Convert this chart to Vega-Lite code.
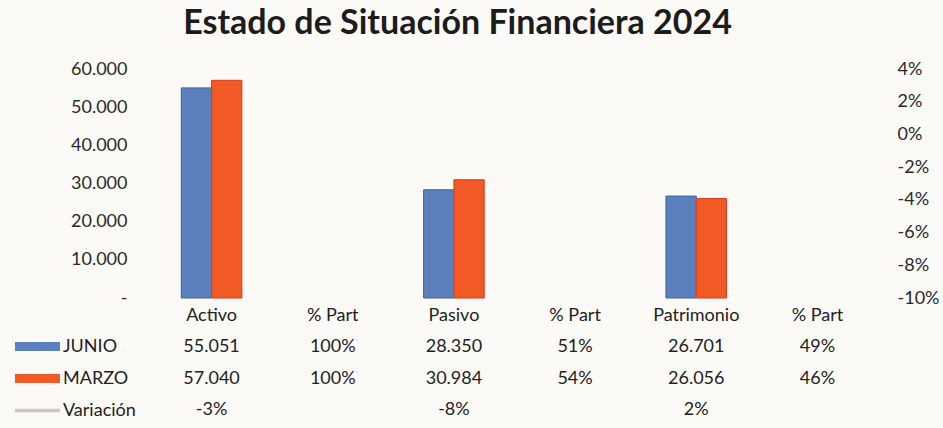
{
  "$schema": "https://vega.github.io/schema/vega-lite/v6.json",
  "width": 727,
  "height": 229,
  "autosize": {"type": "none"},
  "padding": {"left": 151, "top": 69, "right": 65, "bottom": 130},
  "background": "#fbfaf7",
  "config": {"view": {"stroke": null}, "font": "Lato"},
  "title": {
    "text": "Estado de Situación Financiera 2024",
    "font": "Lato",
    "fontSize": 34,
    "fontWeight": "bold",
    "color": "#1c1c1c",
    "anchor": "middle",
    "baseline": "alphabetic",
    "dx": -57,
    "dy": 31,
    "offset": 23
  },
  "datasets": {
    "barras": [
      {"cat": "Activo", "serie": "JUNIO", "valor": 55051},
      {"cat": "Activo", "serie": "MARZO", "valor": 57040},
      {"cat": "Pasivo", "serie": "JUNIO", "valor": 28350},
      {"cat": "Pasivo", "serie": "MARZO", "valor": 30984},
      {"cat": "Patrimonio", "serie": "JUNIO", "valor": 26701},
      {"cat": "Patrimonio", "serie": "MARZO", "valor": 26056}
    ],
    "variacion": [
      {"cat": "Activo", "var": -0.03},
      {"cat": "% Part Activo", "var": null},
      {"cat": "Pasivo", "var": -0.08},
      {"cat": "% Part Pasivo", "var": null},
      {"cat": "Patrimonio", "var": 0.02},
      {"cat": "% Part Patrimonio", "var": null}
    ],
    "tabla": [
      {"cat": "Activo", "fila": "encabezado", "texto": "Activo"},
      {"cat": "% Part Activo", "fila": "encabezado", "texto": "% Part"},
      {"cat": "Pasivo", "fila": "encabezado", "texto": "Pasivo"},
      {"cat": "% Part Pasivo", "fila": "encabezado", "texto": "% Part"},
      {"cat": "Patrimonio", "fila": "encabezado", "texto": "Patrimonio"},
      {"cat": "% Part Patrimonio", "fila": "encabezado", "texto": "% Part"},
      {"cat": "Activo", "fila": "JUNIO", "texto": "55.051"},
      {"cat": "% Part Activo", "fila": "JUNIO", "texto": "100%"},
      {"cat": "Pasivo", "fila": "JUNIO", "texto": "28.350"},
      {"cat": "% Part Pasivo", "fila": "JUNIO", "texto": "51%"},
      {"cat": "Patrimonio", "fila": "JUNIO", "texto": "26.701"},
      {"cat": "% Part Patrimonio", "fila": "JUNIO", "texto": "49%"},
      {"cat": "Activo", "fila": "MARZO", "texto": "57.040"},
      {"cat": "% Part Activo", "fila": "MARZO", "texto": "100%"},
      {"cat": "Pasivo", "fila": "MARZO", "texto": "30.984"},
      {"cat": "% Part Pasivo", "fila": "MARZO", "texto": "54%"},
      {"cat": "Patrimonio", "fila": "MARZO", "texto": "26.056"},
      {"cat": "% Part Patrimonio", "fila": "MARZO", "texto": "46%"},
      {"cat": "Activo", "fila": "Variación", "texto": "-3%"},
      {"cat": "Pasivo", "fila": "Variación", "texto": "-8%"},
      {"cat": "Patrimonio", "fila": "Variación", "texto": "2%"}
    ]
  },
  "layer": [
    {
      "data": {"name": "barras"},
      "mark": {"type": "bar", "strokeWidth": 1},
      "encoding": {
        "x": {
          "field": "cat",
          "type": "nominal",
          "sort": null,
          "scale": {
            "domain": ["Activo", "% Part Activo", "Pasivo", "% Part Pasivo", "Patrimonio", "% Part Patrimonio"],
            "paddingInner": 0,
            "paddingOuter": 0
          },
          "axis": null
        },
        "xOffset": {
          "field": "serie",
          "type": "nominal",
          "scale": {"domain": ["JUNIO", "MARZO"], "paddingInner": 0, "paddingOuter": 1.4}
        },
        "y": {
          "field": "valor",
          "type": "quantitative",
          "scale": {"domain": [0, 60000], "nice": false},
          "axis": {
            "orient": "left",
            "values": [0, 10000, 20000, 30000, 40000, 50000, 60000],
            "labelExpr": "datum.value === 0 ? '-\u00a0\u00a0\u00a0\u00a0' : replace(format(datum.value, ','), ',', '.')",
            "grid": false,
            "domain": false,
            "ticks": false,
            "labelPadding": 24,
            "labelFont": "Lato",
            "labelFontSize": 18,
            "labelColor": "#2a2a2a",
            "title": null
          }
        },
        "color": {
          "field": "serie",
          "type": "nominal",
          "scale": {"domain": ["JUNIO", "MARZO", "Variación"], "range": ["#5b80bd", "#f15a24", "#cdc8c2"]},
          "legend": {
            "orient": "none",
            "legendX": -122.5,
            "legendY": 268.5,
            "title": null,
            "padding": 0,
            "direction": "vertical",
            "symbolType": "M-2.5,-0.5H2.5V0.5H-2.5Z",
            "symbolSize": 324,
            "symbolStrokeWidth": 0,
            "labelOffset": 16.5,
            "labelFont": "Lato",
            "labelFontSize": 18,
            "labelColor": "#222222",
            "rowPadding": 14,
            "encode": {
              "symbols": {
                "update": {
                  "shape": {"signal": "datum.value === 'Variación' ? 'M-2.5,-0.2H2.5V0.2H-2.5Z' : 'M-2.5,-0.5H2.5V0.5H-2.5Z'"}
                }
              }
            }
          }
        },
        "stroke": {
          "field": "serie",
          "type": "nominal",
          "scale": {"domain": ["JUNIO", "MARZO"], "range": ["#3a62a3", "#d9391c"]},
          "legend": null
        }
      }
    },
    {
      "data": {"name": "variacion"},
      "mark": {"type": "line", "invalid": "break-paths-show-domains", "color": "#c8c3bd", "strokeWidth": 2},
      "encoding": {
        "x": {"field": "cat", "type": "nominal", "sort": null, "axis": null},
        "y": {
          "field": "var",
          "type": "quantitative",
          "scale": {"domain": [-0.1, 0.04], "nice": false, "zero": false},
          "axis": {
            "orient": "right",
            "values": [-0.1, -0.08, -0.06, -0.04, -0.02, 0, 0.02, 0.04],
            "labelExpr": "round(datum.value * 100) + '%'",
            "grid": false,
            "domain": false,
            "ticks": false,
            "labelPadding": 19,
            "labelFont": "Lato",
            "labelFontSize": 18,
            "labelColor": "#2a2a2a",
            "title": null
          }
        }
      }
    },
    {
      "data": {"name": "tabla"},
      "mark": {"type": "text", "font": "Lato", "fontSize": 18, "color": "#222222", "baseline": "middle"},
      "encoding": {
        "x": {"field": "cat", "type": "nominal", "sort": null, "axis": null},
        "y": {
          "field": "fila",
          "type": "nominal",
          "scale": {"domain": ["encabezado", "JUNIO", "MARZO", "Variación"], "range": [247, 341], "padding": 0},
          "axis": null
        },
        "text": {"field": "texto"}
      }
    }
  ],
  "resolve": {"scale": {"y": "independent"}}
}
